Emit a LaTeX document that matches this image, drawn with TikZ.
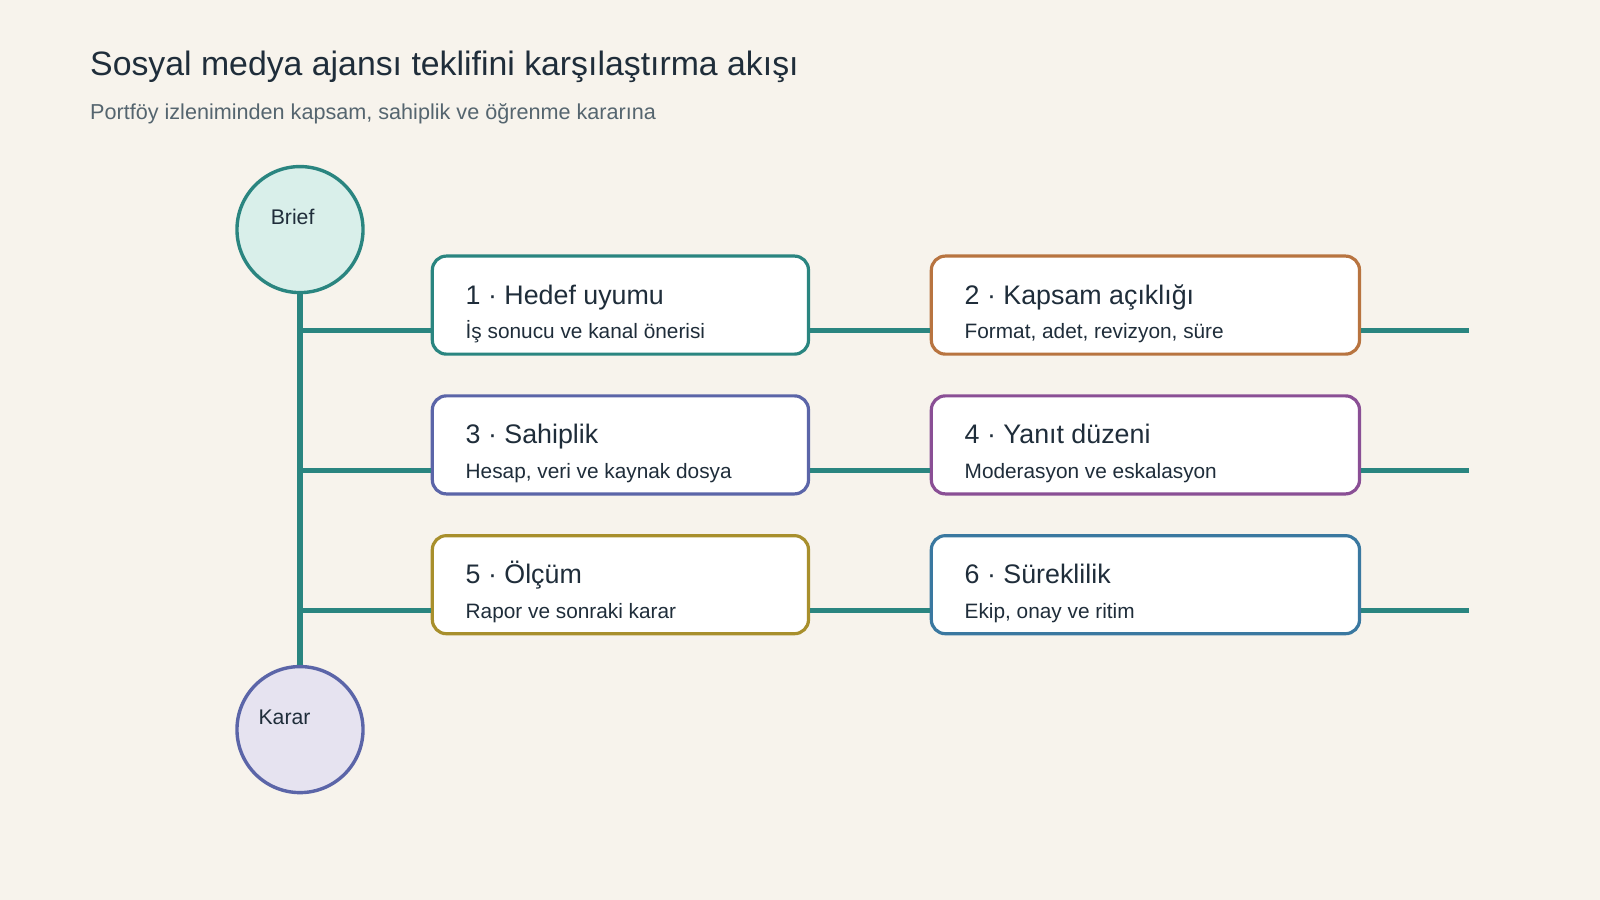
\documentclass[tikz,border=0pt]{standalone}
\usepackage{fontspec}
\setmainfont{Liberation Sans}
\usetikzlibrary{positioning}
\definecolor{bg}{HTML}{F7F3EC}
\definecolor{ink}{HTML}{1F2D3A}
\definecolor{muted}{HTML}{55656F}
\definecolor{teal}{HTML}{2A8580}
\definecolor{orng}{HTML}{B87440}
\definecolor{indg}{HTML}{5B65A8}
\definecolor{purp}{HTML}{8A4F95}
\definecolor{gold}{HTML}{A88F2C}
\definecolor{blu}{HTML}{3A78A0}
\definecolor{briefbg}{HTML}{D9EFEA}
\definecolor{kararbg}{HTML}{E6E3F0}
\tikzset{
  card/.style={draw=#1, line width=1.6pt, fill=white, rounded corners=7pt,
    minimum width=188pt, minimum height=49pt, inner sep=0pt},
  wide/.style={minimum width=214pt},
  link/.style={draw=teal, line width=2.6pt},
  hub/.style={circle, line width=1.7pt, minimum size=63pt, inner sep=0pt},
  head/.style={anchor=base west, inner sep=0pt, font=\fontsize{13.4}{15}\selectfont, text=ink},
  sub/.style={anchor=base west, inner sep=0pt, font=\fontsize{10.4}{12}\selectfont, text=ink}
}
\begin{document}
\begin{tikzpicture}[x=0.51pt,y=-0.51pt]
  \fill[bg] (0,0) rectangle (1568,882);
  \useasboundingbox (0,0) rectangle (1568,882);
  % Titles
  \node[anchor=base west, inner sep=0pt, font=\fontsize{16.9}{19}\selectfont, text=ink] (title) at (88,74) {Sosyal medya ajansı teklifini karşılaştırma akışı};
  \node[anchor=base west, inner sep=0pt, font=\fontsize{10.8}{12}\selectfont, text=muted] (subtitle) at (88,117) {Portföy izleniminden kapsam, sahiplik ve öğrenme kararına};
  % Hubs
  \node[hub, draw=teal, fill=briefbg] (brief) at (294,225) {};
  \node[hub, draw=indg, fill=kararbg] (karar) at (294,715) {};
  \draw[link] (brief.south) -- (karar.north);
  \node[sub, font=\fontsize{10.6}{12}\selectfont] at (265,220) {Brief};
  \node[sub, font=\fontsize{10.6}{12}\selectfont] at (253,710) {Karar};
  % Cards
  \foreach \n/\y/\cl/\cr in {a/299/teal/orng, b/436/indg/purp, c/573/gold/blu}{
    \coordinate (t\n) at (294,\y+25);
    \coordinate (e\n) at (1440,\y+25);
    \node[card=\cl] (\n1) at (608,\y) {};
    \node[card=\cr, wide] (\n2) at (1122.5,\y) {};
    \draw[link] (t\n) -- (\n1.west|-t\n);
    \draw[link] (\n1.east|-t\n) -- (\n2.west|-t\n);
    \draw[link] (\n2.east|-t\n) -- (e\n);
  }
  % Texts
  \node[head] at (456,298) {1 · Hedef uyumu};
  \node[sub] at (456,332) {İş sonucu ve kanal önerisi};
  \node[head] at (945,298) {2 · Kapsam açıklığı};
  \node[sub] at (945,332) {Format, adet, revizyon, süre};
  \node[head] at (456,435) {3 · Sahiplik};
  \node[sub] at (456,469) {Hesap, veri ve kaynak dosya};
  \node[head] at (945,435) {4 · Yanıt düzeni};
  \node[sub] at (945,469) {Moderasyon ve eskalasyon};
  \node[head] at (456,572) {5 · Ölçüm};
  \node[sub] at (456,606) {Rapor ve sonraki karar};
  \node[head] at (945,572) {6 · Süreklilik};
  \node[sub] at (945,606) {Ekip, onay ve ritim};
\end{tikzpicture}
\end{document}
